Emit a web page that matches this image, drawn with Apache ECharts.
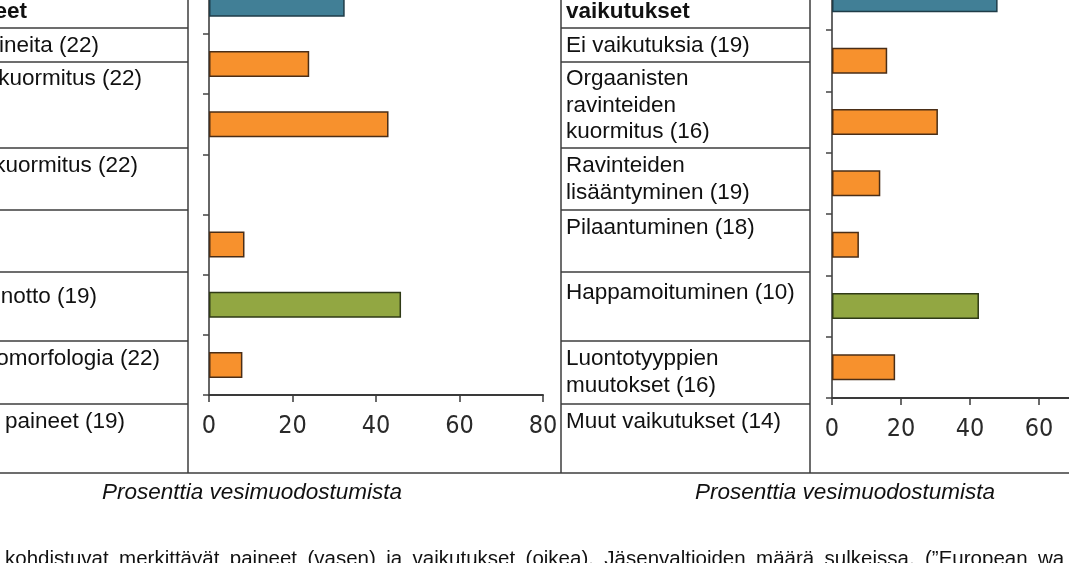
<!DOCTYPE html>
<html>
<head>
<meta charset="utf-8">
<script src="https://cdn.jsdelivr.net/npm/echarts@6/dist/echarts.min.js"></script>
<style>
  html, body { margin: 0; padding: 0; background: #fff; }
  body { width: 1069px; height: 563px; overflow: hidden; position: relative; }
  /* kaavio on rajattu: piirtoalue ulottuu näkyvän alueen yli */
  #chart { position: absolute; left: 0; top: -40px; width: 1160px; height: 603px; }
</style>
</head>
<body>
<div id="chart"></div>
<script>
// paineet (vasen) ja vaikutukset (oikea), % vesimuodostumista
var paineet = ['Ei paineita', 'Pistekuormitus', 'Hajakuormitus', 'Laskeuma', 'Vedenotto', 'Hydromorfologia', 'Muut paineet'];
var paineetArvot = [32.5, 24, 43, null, 8.5, 46, 8];
var paineetLaji = ['ei', 'kem', 'kem', 'kem', 'kem', 'hym', 'kem'];

var vaikutukset = ['Ei vaikutuksia', 'Orgaanisten ravinteiden kuormitus', 'Ravinteiden lisääntyminen', 'Pilaantuminen', 'Happamoituminen', 'Luontotyyppien muutokset', 'Muut vaikutukset'];
var vaikutuksetArvot = [48, 16, 30.7, 14, 7.8, 42.6, 18.3];
var vaikutuksetLaji = ['ei', 'kem', 'kem', 'kem', 'kem', 'hym', 'kem'];

var xTicks = [0, 20, 40, 60, 80];

// taulukon tekstit (vasemman reuna on rajattu pois)
var vasenRivit = ['Paineet', 'Ei paineita (22)', 'Pistekuormitus (22)', 'Hajakuormitus (22)', '', 'Vedenotto (19)', 'Hydromorfologia (22)', 'Muut paineet (19)'];
var oikeaRivit = ['Merkittävät\nvaikutukset', 'Ei vaikutuksia (19)', 'Orgaanisten\nravinteiden\nkuormitus (16)', 'Ravinteiden\nlisääntyminen (19)', 'Pilaantuminen (18)', 'Happamoituminen (10)', 'Luontotyyppien\nmuutokset (16)', 'Muut vaikutukset (14)'];
var akseliOtsikko = 'Prosenttia vesimuodostumista';
var kuvateksti = 'kohdistuvat merkittävät paineet (vasen) ja vaikutukset (oikea). Jäsenvaltioiden määrä sulkeissa. (”European wa';

var varit = {
  ei:  { color: '#417f96', borderColor: '#1f3c48' },
  kem: { color: '#f7912d', borderColor: '#4a2e17' },
  hym: { color: '#92a742', borderColor: '#2f3a16' }
};

var OY = 40; // piirtoalueen siirto ylöspäin
function Y(y) { return y + OY; }

var myChart = echarts.init(document.getElementById('chart'));

function palkit(arvot, lajit) {
  return arvot.map(function (v, i) {
    var c = varit[lajit[i]];
    return { value: v == null ? '-' : v, itemStyle: { color: c.color, borderColor: c.borderColor, borderWidth: 1.5 } };
  });
}

function xAkseli(idx) {
  return {
    type: 'value', gridIndex: idx, min: xTicks[0], max: xTicks[xTicks.length - 1], interval: 20,
    splitLine: { show: false },
    axisLine: { show: true, lineStyle: { color: '#3a3a3a', width: 2 } },
    axisTick: { show: true, length: 7, lineStyle: { color: '#3a3a3a', width: 1.5 } },
    axisLabel: { fontFamily: '"DejaVu Sans Condensed", "Liberation Sans Narrow", sans-serif', fontSize: 25, color: '#2a2a2a', margin: 19 }
  };
}

function yAkseli(idx, cats) {
  return {
    type: 'category', gridIndex: idx, data: cats, inverse: true,
    axisLine: { show: true, lineStyle: { color: '#666', width: 2 } },
    axisTick: { show: true, length: 6, lineStyle: { color: '#444', width: 1.5 } },
    axisLabel: { show: false }
  };
}

// taulukon viivat ja tekstit
var viiva = { stroke: '#3c3c3c', lineWidth: 1.5 };
var rivirajat = [28, 62, 148, 210, 272, 341, 404];
var graphic = [];
function line(x1, y1, x2, y2) {
  graphic.push({ type: 'line', shape: { x1: x1, y1: Y(y1), x2: x2, y2: Y(y2) }, style: viiva, silent: true });
}
rivirajat.forEach(function (y) { line(0, y, 188, y); line(561, y, 810, y); });
line(188, -40, 188, 473);
line(561, -40, 561, 473);
line(810, -40, 810, 473);
line(0, 473, 1160, 473);

var fontti = '"Liberation Sans", Arial, sans-serif';
var vasenLoppu = [27, 99, 142, 138, 0, 97, 160, 125];
var riviY = [12, 46, 79, 166, 0, 297, 359, 422];
vasenRivit.forEach(function (t, i) {
  if (!t) return;
  graphic.push({ type: 'text', x: vasenLoppu[i], y: Y(riviY[i]), silent: true,
    style: { text: t, font: (i === 0 ? 'bold ' : '') + '22.5px ' + fontti, fill: '#111', align: 'right', verticalAlign: 'middle' } });
});
// oikean taulukon ensimmäisen rivin yläreuna
var oikeaY = [12 - 26.5, 46, 79, 166, 228, 293, 359, 422];
oikeaRivit.forEach(function (t, i) {
  graphic.push({ type: 'text', x: 566, y: Y(oikeaY[i] - 13.25), silent: true,
    style: { text: t, font: (i === 0 ? 'bold ' : '') + '22.5px ' + fontti, lineHeight: 26.5, fill: '#111', align: 'left', verticalAlign: 'top' } });
});

[252, 845].forEach(function (cx) {
  graphic.push({ type: 'text', x: cx, y: Y(493), silent: true,
    style: { text: akseliOtsikko, font: 'italic 22.5px ' + fontti, fill: '#111', align: 'center', verticalAlign: 'middle' } });
});

// tasattu kuvateksti
var ctx = document.createElement('canvas').getContext('2d');
var kFont = '20.5px ' + fontti;
ctx.font = kFont;
var sanat = kuvateksti.split(' ');
var leveydet = sanat.map(function (s) { return ctx.measureText(s).width; });
var alku = 5, viimeinen = 1038;
var summa = 0;
for (var i = 0; i < sanat.length - 1; i++) summa += leveydet[i];
var vali = (viimeinen - alku - summa) / (sanat.length - 1);
var xx = alku;
sanat.forEach(function (s, i) {
  graphic.push({ type: 'text', x: xx, y: Y(559), silent: true,
    style: { text: s, font: kFont, fill: '#111', align: 'left', verticalAlign: 'middle' } });
  xx += leveydet[i] + vali;
});

var option = {
  animation: false,
  backgroundColor: '#fff',
  grid: [
    { left: 209, top: Y(-26.3), width: 334, height: 421.3, outerBoundsMode: 'none' },
    { left: 832, top: Y(-31.3), width: 276, height: 429.3, outerBoundsMode: 'none' }
  ],
  xAxis: [xAkseli(0), xAkseli(1)],
  yAxis: [yAkseli(0, paineet), yAkseli(1, vaikutukset)],
  series: [
    { name: 'Paineet', type: 'bar', xAxisIndex: 0, yAxisIndex: 0, barWidth: 26, data: palkit(paineetArvot, paineetLaji) },
    { name: 'Vaikutukset', type: 'bar', xAxisIndex: 1, yAxisIndex: 1, barWidth: 26, data: palkit(vaikutuksetArvot, vaikutuksetLaji) }
  ],
  graphic: graphic
};

myChart.setOption(option);
</script>
</body>
</html>
